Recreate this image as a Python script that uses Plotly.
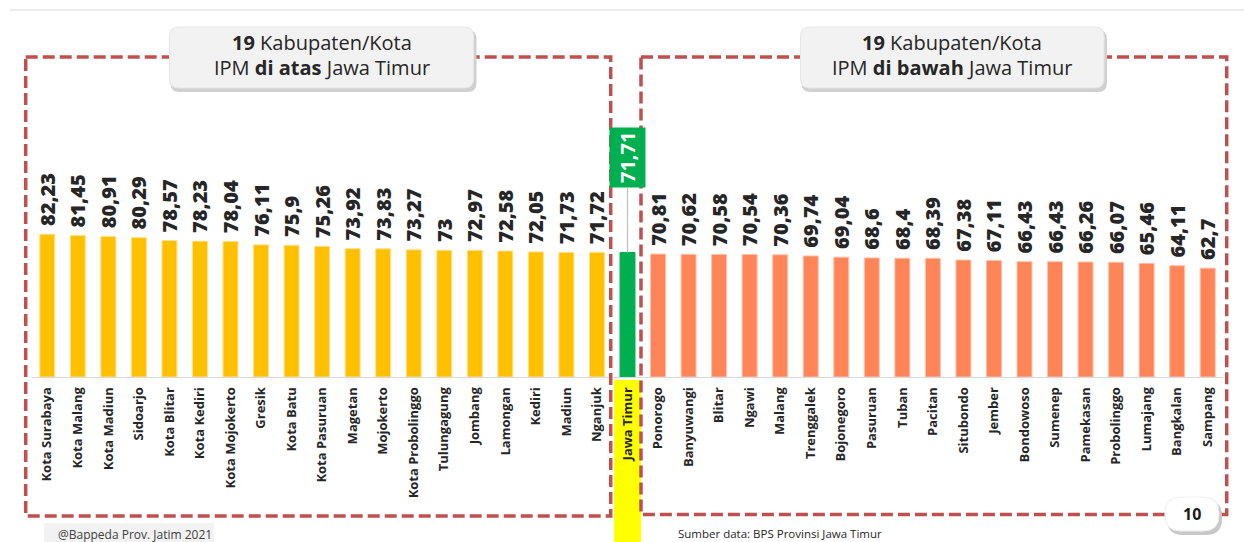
import plotly.graph_objects as go

# ---------------- data ----------------
names_above = ["Kota Surabaya", "Kota Malang", "Kota Madiun", "Sidoarjo", "Kota Blitar",
               "Kota Kediri", "Kota Mojokerto", "Gresik", "Kota Batu", "Kota Pasuruan",
               "Magetan", "Mojokerto", "Kota Probolinggo", "Tulungagung", "Jombang",
               "Lamongan", "Kediri", "Madiun", "Nganjuk"]
ipm_above = [82.23, 81.45, 80.91, 80.29, 78.57, 78.23, 78.04, 76.11, 75.9, 75.26,
             73.92, 73.83, 73.27, 73, 72.97, 72.58, 72.05, 71.73, 71.72]

province = "Jawa Timur"
ipm_province = 71.71

names_below = ["Ponorogo", "Banyuwangi", "Blitar", "Ngawi", "Malang", "Trenggalek",
               "Bojonegoro", "Pasuruan", "Tuban", "Pacitan", "Situbondo", "Jember",
               "Bondowoso", "Sumenep", "Pamekasan", "Probolinggo", "Lumajang",
               "Bangkalan", "Sampang"]
ipm_below = [70.81, 70.62, 70.58, 70.54, 70.36, 69.74, 69.04, 68.6, 68.4, 68.39,
             67.38, 67.11, 66.43, 66.43, 66.26, 66.07, 65.46, 64.11, 62.7]

title_left = ["<b>19</b> Kabupaten/Kota", "IPM <b>di atas</b> Jawa Timur"]
title_right = ["<b>19</b> Kabupaten/Kota", "IPM <b>di bawah</b> Jawa Timur"]
footer_left = "@Bappeda Prov. Jatim 2021"
footer_source = "Sumber data: BPS Provinsi Jawa Timur"
page_no = "10"

# ---------------- styles ----------------
YELLOW, YELLOW_EDGE = "#FFC000", "#FFE08A"
ORANGE, ORANGE_EDGE = "#FF8457", "#FFC0A8"
GREEN = "#00B050"
RED = "#C0504D"
TXT = "#262626"

W, H = 1244, 542
L, R, T, B = 32, 1223, 0, 377


def fmt(v):
    return f"{v:g}".replace(".", ",")


def px(x):
    return (x - L) / (R - L)


def py(y):
    return (B - y) / (B - T)


def rrect(x0, y0, x1, y1, r):
    pts = (f"M {px(x0 + r)},{py(y0)} L {px(x1 - r)},{py(y0)} "
           f"Q {px(x1)},{py(y0)} {px(x1)},{py(y0 + r)} "
           f"L {px(x1)},{py(y1 - r)} Q {px(x1)},{py(y1)} {px(x1 - r)},{py(y1)} "
           f"L {px(x0 + r)},{py(y1)} Q {px(x0)},{py(y1)} {px(x0)},{py(y1 - r)} "
           f"L {px(x0)},{py(y0 + r)} Q {px(x0)},{py(y0)} {px(x0 + r)},{py(y0)} Z")
    return pts


cats = names_above + [province] + names_below
vals = ipm_above + [ipm_province] + ipm_below
colors = [YELLOW] * len(names_above) + [GREEN] + [ORANGE] * len(names_below)
edges = [YELLOW_EDGE] * len(names_above) + [GREEN] + [ORANGE_EDGE] * len(names_below)
texts = ["\u00a0" + fmt(v) for v in ipm_above] + [""] + ["\u00a0" + fmt(v) for v in ipm_below]

fig = go.Figure()
fig.add_trace(go.Bar(
    x=cats, y=vals,
    marker=dict(color=colors, line=dict(color=edges, width=1)),
    text=texts, textposition="outside", textangle=-90,
    textfont=dict(family="Open Sans", size=20, color=TXT, weight=800),
    constraintext="none", cliponaxis=False, hoverinfo="x+y",
))

shapes = []
# top thin gray rule
shapes.append(dict(type="line", xref="paper", yref="paper", x0=px(10), x1=px(1244),
                   y0=py(10), y1=py(10), line=dict(color="#D9D9D9", width=1), layer="above"))
# yellow highlight behind province label
idx = len(names_above)
shapes.append(dict(type="rect", xref="x", yref="paper", x0=idx - 0.44, x1=idx + 0.44,
                   y0=py(380), y1=py(542), fillcolor="#FFFF00", line=dict(width=0),
                   layer="below"))
# dashed group boxes
for x0, x1, y1 in [(25.7, 610.7, 516), (641, 1226.7, 514.5)]:
    shapes.append(dict(type="rect", xref="paper", yref="paper", x0=px(x0), x1=px(x1),
                       y0=py(57), y1=py(y1), fillcolor="rgba(0,0,0,0)",
                       line=dict(color=RED, width=3.5, dash="12px,5px"), layer="above"))
# title boxes with shadow
for x0, x1 in [(169.5, 473.5), (800.5, 1104)]:
    shapes.append(dict(type="path", xref="paper", yref="paper",
                       path=rrect(x0 + 1, 27 + 3, x1 + 3, 88 + 4, 9),
                       fillcolor="#D0D0D0", line=dict(width=0), layer="above"))
    shapes.append(dict(type="path", xref="paper", yref="paper",
                       path=rrect(x0, 27, x1, 88, 9),
                       fillcolor="#F2F2F2", line=dict(color="#E6E6E6", width=1), layer="above"))
# footer box
shapes.append(dict(type="rect", xref="paper", yref="paper", x0=px(44), x1=px(214),
                   y0=py(523), y1=py(545), fillcolor="#F2F2F2", line=dict(width=0),
                   layer="above"))
# page number pill
shapes.append(dict(type="path", xref="paper", yref="paper", path=rrect(1167, 500, 1222, 535, 16),
                   fillcolor="#C8C8C8", line=dict(width=0), layer="above"))
shapes.append(dict(type="path", xref="paper", yref="paper", path=rrect(1165, 497, 1219, 531, 16),
                   fillcolor="#FFFFFF", line=dict(color="#EEEEEE", width=1), layer="above"))

annotations = []
for cx, lines in [(321.5, title_left), (952.2, title_right)]:
    for ly, t in zip([43, 67], lines):
        annotations.append(dict(xref="paper", yref="paper", x=px(cx), y=py(ly),
                                text=t, showarrow=False, xanchor="center", yanchor="middle",
                                font=dict(family="Open Sans", size=20, color=TXT, weight=500)))
# province value callout
annotations.append(dict(x=province, y=ipm_province, xref="x", yref="y",
                        text="<b>" + fmt(ipm_province) + "</b>", textangle=-90,
                        showarrow=True, arrowhead=0, arrowwidth=1.2, arrowcolor="#BFBFBF",
                        ax=0, ay=-95, bgcolor=GREEN, borderpad=4,
                        font=dict(family="Open Sans", size=20, color="#FFFFFF")))
annotations.append(dict(xref="paper", yref="paper", x=px(56), y=py(534), text=footer_left,
                        showarrow=False, xanchor="left", yanchor="middle",
                        font=dict(family="Open Sans", size=12, color="#404040")))
annotations.append(dict(xref="paper", yref="paper", x=px(676), y=py(533), text=footer_source,
                        showarrow=False, xanchor="left", yanchor="middle",
                        font=dict(family="Open Sans", size=11.5, color="#262626")))
annotations.append(dict(xref="paper", yref="paper", x=px(1192), y=py(514), text="<b>" + page_no + "</b>",
                        showarrow=False, xanchor="center", yanchor="middle",
                        font=dict(family="Open Sans", size=16, color="#1A1A1A")))

fig.update_layout(
    width=W, height=H,
    margin=dict(l=L, r=W - R, t=T, b=H - B, pad=0),
    paper_bgcolor="#FFFFFF", plot_bgcolor="rgba(0,0,0,0)",
    showlegend=False, bargap=0.51,
    shapes=shapes, annotations=annotations,
    xaxis=dict(type="category", categoryorder="array", categoryarray=cats,
               tickangle=-90, ticks="", showgrid=False, zeroline=False,
               showline=True, linecolor="#D9D9D9", linewidth=1,
               tickfont=dict(family="Open Sans", size=13, color=TXT, weight="bold"),
               ticklabelstandoff=4, range=[-0.5, len(cats) - 0.5], fixedrange=True),
    yaxis=dict(visible=False, range=[0, (B - T) / 1.736], fixedrange=True),
)

fig.write_html("out.html")
